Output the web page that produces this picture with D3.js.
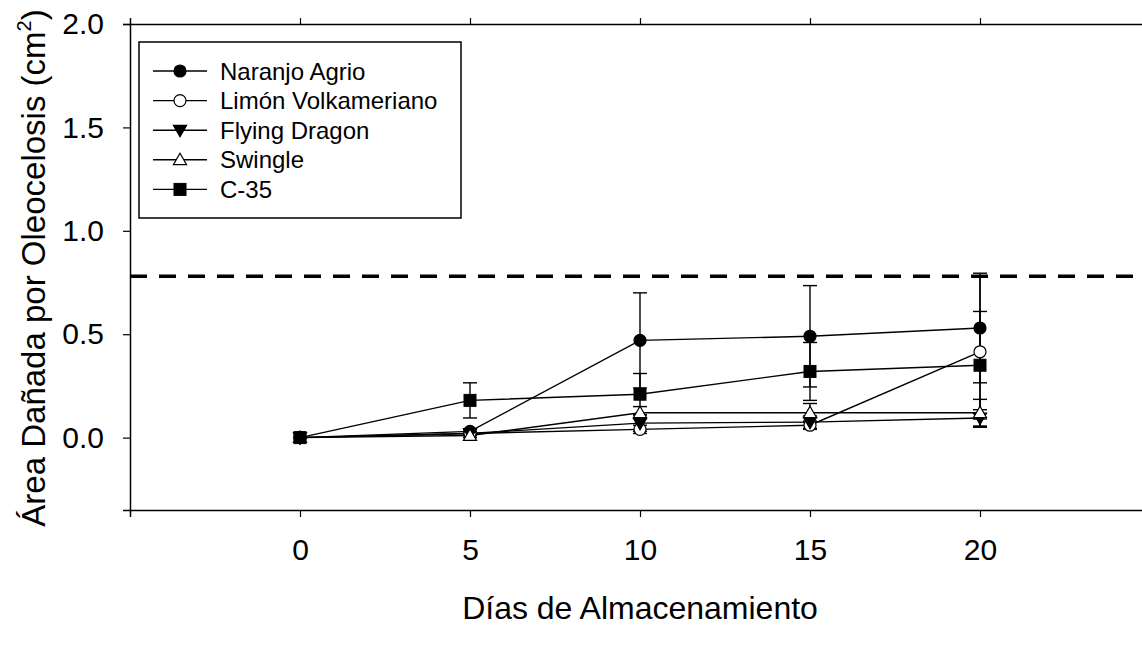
<!DOCTYPE html>
<html lang="es">
<head>
<meta charset="UTF-8">
<script src="https://d3js.org/d3.v7.min.js"></script>
<style>
  body { margin: 0; background: #fff; }
  svg { display: block; font-family: Arial, "Liberation Sans", sans-serif; }
  .serie { fill: none; stroke: #000; stroke-width: 1.4px; }
  .err { stroke: #000; stroke-width: 1.4px; }
</style>
</head>
<body>
<div id="fig"></div>
<script>
// dias de almacenamiento
const dias = [0, 5, 10, 15, 20];
const nombres = ["Naranjo Agrio", "Limón Volkameriano", "Flying Dragon", "Swingle", "C-35"];

// medias (cm2)
const naranjo = [0, 0.03, 0.47, 0.49, 0.53];
const limon   = [0, 0.02, 0.04, 0.06, 0.415];
const flying  = [0, 0.02, 0.07, 0.075, 0.095];
const swingle = [0, 0.01, 0.12, 0.12, 0.12];
const c35     = [0, 0.18, 0.21, 0.32, 0.35];

// error (+/-)
const errNaranjo = [0, 0.01, 0.23, 0.245, 0.265];
const errLimon   = [0, 0.01, 0.02, 0.02, 0.365];
const errFlying  = [0, 0.01, 0.04, 0.03, 0.04];
const errSwingle = [0, 0.01, 0.03, 0.045, 0.065];
const errC35     = [0, 0.085, 0.10, 0.14, 0.26];

const umbral = 0.78;
const xTicks = [0, 5, 10, 15, 20];
const yTicks = [0, 0.5, 1.0, 1.5, 2.0];

const series = [
  {nombre: nombres[0], y: naranjo, e: errNaranjo, sym: "circle", fill: "#000"},
  {nombre: nombres[1], y: limon, e: errLimon, sym: "circle", fill: "#fff"},
  {nombre: nombres[2], y: flying, e: errFlying, sym: "down", fill: "#000"},
  {nombre: nombres[3], y: swingle, e: errSwingle, sym: "up", fill: "#fff"},
  {nombre: nombres[4], y: c35, e: errC35, sym: "square", fill: "#000"}
];

const W = 1142, H = 646;
const mLeft = 130, mRight = 1150, mTop = 24, mBottom = 510;

const svg = d3.select("#fig").append("svg")
  .attr("width", W).attr("height", H);

const x = d3.scaleLinear().domain([-5, 25]).range([mLeft, mRight]);
const y = d3.scaleLinear().domain([-0.35, 2.0]).range([mBottom, mTop]);

// ejes
svg.append("g")
  .attr("transform", "translate(" + mLeft + ",0)")
  .call(d3.axisLeft(y).tickValues(yTicks).tickFormat(d3.format(".1f")).tickSizeOuter(0).tickSize(7).tickPadding(19))
  .call(g => g.select(".domain").attr("stroke-width", 1.5))
  .call(g => g.selectAll(".tick line").attr("stroke-width", 1.2))
  .call(g => g.selectAll("text").attr("font-size", 30).attr("fill", "#000"));

svg.append("g")
  .attr("transform", "translate(0," + mBottom + ")")
  .call(d3.axisBottom(x).tickValues(xTicks).tickSizeOuter(0).tickSize(7).tickPadding(22))
  .call(g => g.select(".domain").attr("stroke-width", 1.5))
  .call(g => g.selectAll(".tick line").attr("stroke-width", 1.2))
  .call(g => g.selectAll("text").attr("font-size", 30).attr("fill", "#000"));

svg.append("g")
  .attr("transform", "translate(0," + mTop + ")")
  .call(d3.axisTop(x).tickValues(xTicks).tickSizeOuter(0).tickSize(6).tickFormat(""))
  .call(g => g.select(".domain").attr("stroke-width", 1.5))
  .call(g => g.selectAll(".tick line").attr("stroke-width", 1.2));

svg.selectAll(".tick text").attr("font-family", "Arial, 'Liberation Sans', sans-serif");

// titulos
svg.append("text")
  .attr("x", x(10)).attr("y", 619)
  .attr("text-anchor", "middle").attr("font-size", 32)
  .text("Días de Almacenamiento");

const yt = svg.append("text")
  .attr("transform", "translate(45," + ((mTop + mBottom) / 2 + 1) + ") rotate(-90)")
  .attr("text-anchor", "middle").attr("font-size", 33);
yt.append("tspan").text("Área Dañada por Oleocelosis (cm");
yt.append("tspan").attr("font-size", 20).attr("dy", -14).text("2");
yt.append("tspan").attr("dy", 14).text(")");

// linea de referencia
svg.append("line")
  .attr("x1", mLeft).attr("x2", mRight)
  .attr("y1", y(umbral)).attr("y2", y(umbral))
  .attr("stroke", "#000").attr("stroke-width", 3.5)
  .attr("stroke-dasharray", "17,12");

const line = d3.line().x((d, i) => x(dias[i])).y(d => y(d));

svg.append("g").selectAll("path")
  .data(series).join("path")
  .attr("class", "serie")
  .attr("d", s => line(s.y));

// barras de error
const cap = 7;
series.forEach(s => {
  const g = svg.append("g").attr("class", "err");
  s.y.forEach((v, i) => {
    if (s.e[i] <= 0) return;
    const cx = x(dias[i]);
    const y0 = y(v - s.e[i]), y1 = y(v + s.e[i]);
    g.append("line").attr("x1", cx).attr("x2", cx).attr("y1", y0).attr("y2", y1);
    g.append("line").attr("x1", cx - cap).attr("x2", cx + cap).attr("y1", y0).attr("y2", y0);
    g.append("line").attr("x1", cx - cap).attr("x2", cx + cap).attr("y1", y1).attr("y2", y1);
  });
});

function simbolo(g, sym, fill, cx, cy) {
  if (sym === "circle") {
    g.append("circle").attr("cx", cx).attr("cy", cy).attr("r", 6)
      .attr("fill", fill).attr("stroke", "#000").attr("stroke-width", 1.2);
  } else if (sym === "square") {
    g.append("rect").attr("x", cx - 6).attr("y", cy - 6).attr("width", 12).attr("height", 12)
      .attr("fill", fill).attr("stroke", "#000").attr("stroke-width", 1);
  } else {
    const t = d3.symbol().type(d3.symbolTriangle).size(75);
    g.append("path").attr("d", t())
      .attr("transform", "translate(" + cx + "," + (cy + (sym === "down" ? -1 : 1)) + ")" + (sym === "down" ? " rotate(180)" : ""))
      .attr("fill", fill).attr("stroke", "#000").attr("stroke-width", 1.2);
  }
}

series.forEach(s => {
  const g = svg.append("g");
  s.y.forEach((v, i) => simbolo(g, s.sym, s.fill, x(dias[i]), y(v)));
});

// leyenda
const leg = svg.append("g");
leg.append("rect")
  .attr("x", 139).attr("y", 42).attr("width", 322).attr("height", 176)
  .attr("fill", "#fff").attr("stroke", "#000").attr("stroke-width", 1.5);

series.forEach((s, i) => {
  const ly = 71 + i * 29.6;
  leg.append("line").attr("x1", 153).attr("x2", 207).attr("y1", ly).attr("y2", ly)
    .attr("stroke", "#000").attr("stroke-width", 1.4);
  simbolo(leg, s.sym, s.fill, 180, ly);
  leg.append("text").attr("x", 220).attr("y", ly).attr("dy", "0.36em")
    .attr("font-size", 24).text(s.nombre);
});
</script>
</body>
</html>
